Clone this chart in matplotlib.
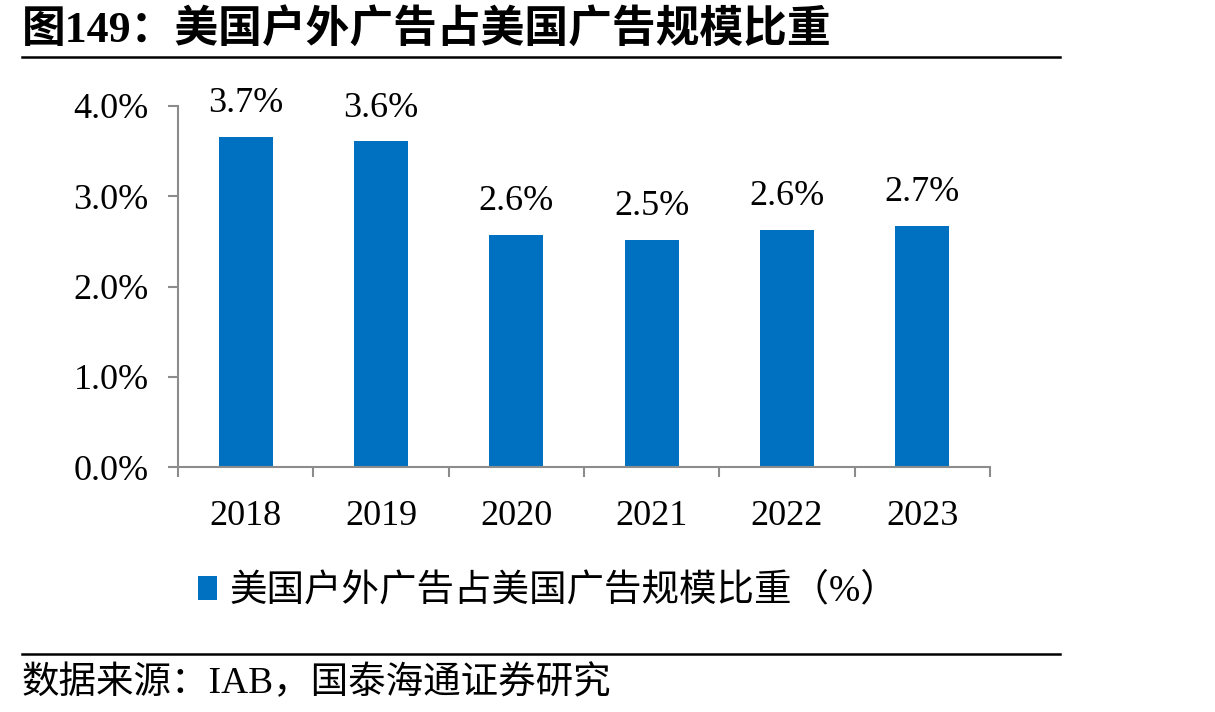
import matplotlib
matplotlib.use("Agg")
import matplotlib.pyplot as plt
from matplotlib.lines import Line2D
from matplotlib.ticker import FixedLocator

plt.rcParams['font.family'] = ['Liberation Serif', 'Noto Sans CJK SC', 'DejaVu Sans']

years = ['2018', '2019', '2020', '2021', '2022', '2023']
share = [3.66, 3.61, 2.57, 2.52, 2.63, 2.67]
labels = ['3.7%', '3.6%', '2.6%', '2.5%', '2.6%', '2.7%']
yticks = [0, 1, 2, 3, 4]
ytick_labels = ['0.0%', '1.0%', '2.0%', '3.0%', '4.0%']
series_name = '美国户外广告占美国广告规模比重（%）'
title = '图149：美国户外广告占美国广告规模比重'
source = '数据来源：IAB，国泰海通证券研究'

W, H = 1215, 712
fig = plt.figure(figsize=(W / 100, H / 100), dpi=100)
ax = fig.add_axes([178 / W, 1 - 467 / H, (990 - 178) / W, (467 - 106) / H])

x = list(range(len(years)))
bars = ax.bar(x, share, width=0.4, color='#0070C0', label=series_name, zorder=2)
for xi, v, lab in zip(x, share, labels):
    ax.annotate(lab, (xi, v), xytext=(0, 12), textcoords='offset points',
                ha='center', va='bottom', fontsize=26, color='black')

ax.set_xlim(-0.5, len(years) - 0.5)
ax.set_ylim(0, 4)
ax.set_yticks(yticks)
ax.set_yticklabels(ytick_labels)
ax.set_xticks(x)
ax.set_xticklabels(years)
ax.xaxis.set_minor_locator(FixedLocator([i - 0.5 for i in range(len(years) + 1)]))
ax.tick_params(axis='x', which='major', length=0, pad=24, labelsize=26)
ax.tick_params(axis='x', which='minor', length=7, width=1.5, color='#8c8c8c', direction='out')
ax.tick_params(axis='y', which='major', length=7, width=1.5, color='#8c8c8c', direction='out', pad=14, labelsize=26)

for s in ['top', 'right']:
    ax.spines[s].set_visible(False)
for s in ['left', 'bottom']:
    ax.spines[s].set_color('#8c8c8c')
    ax.spines[s].set_linewidth(1.5)

leg = fig.legend(handles=[bars], labels=[series_name], loc='center left',
                 bbox_to_anchor=(198 / W, 1 - 591 / H), frameon=False,
                 fontsize=27, handlelength=0.5, handleheight=0.6,
                 handletextpad=0.33, borderpad=0, borderaxespad=0)

fig.text(22 / W, 1 - 30 / H, title, fontsize=31.5, fontweight='bold',
         ha='left', va='center', color='black')
fig.add_artist(Line2D([22 / W, 1060 / W], [1 - 57 / H, 1 - 57 / H],
                      color='black', lw=1.8, transform=fig.transFigure))
fig.add_artist(Line2D([22 / W, 1060 / W], [1 - 654 / H, 1 - 654 / H],
                      color='black', lw=1.8, transform=fig.transFigure))
fig.text(22 / W, 1 - 683 / H, source, fontsize=27, ha='left', va='center', color='black')

fig.savefig('out.png', dpi=100)
